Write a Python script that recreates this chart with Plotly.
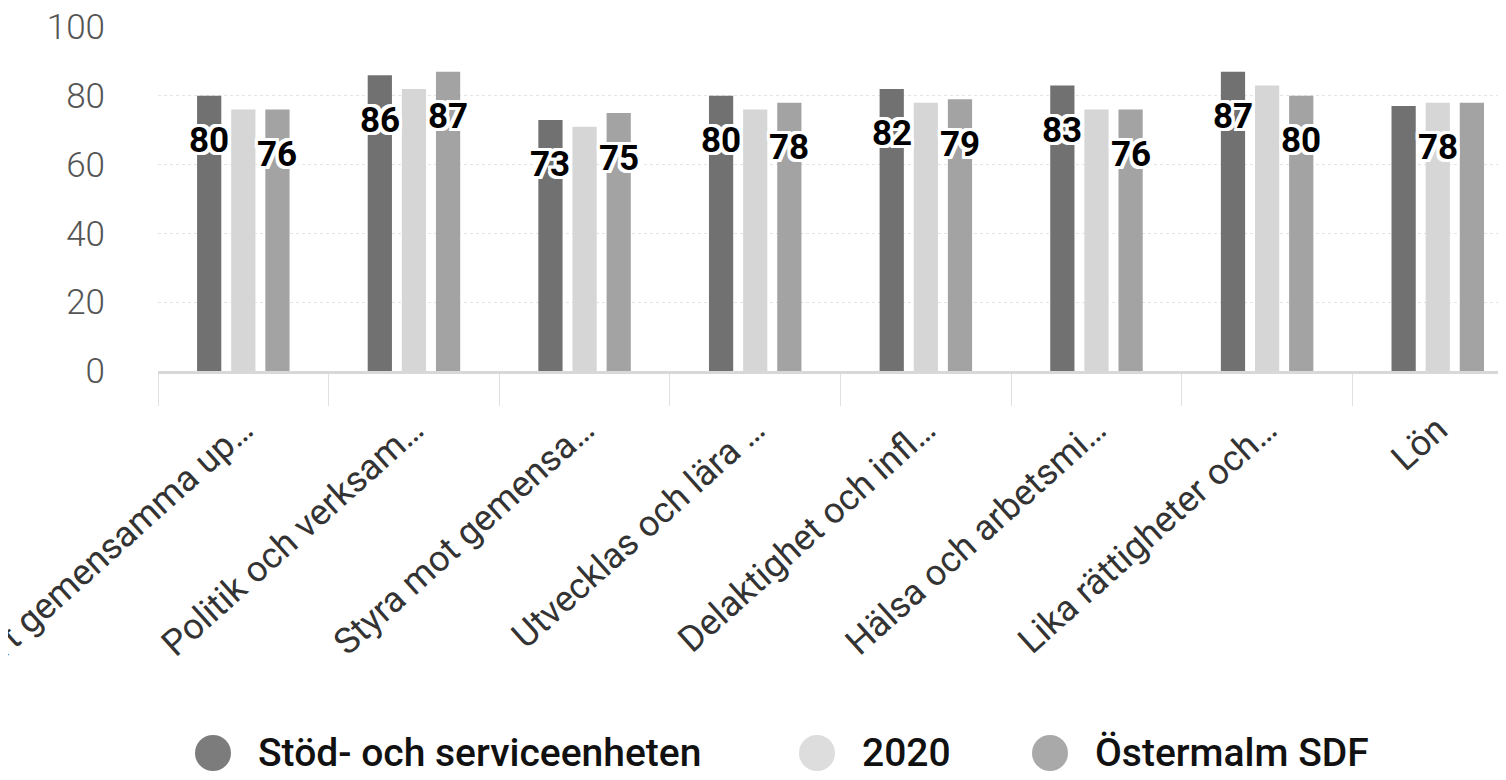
import plotly.graph_objects as go

categories = ["Vårt gemensamma up…", "Politik och verksam…", "Styra mot gemensa…",
              "Utvecklas och lära …", "Delaktighet och infl…", "Hälsa och arbetsmi…",
              "Lika rättigheter och…", "Lön"]
series_names = ["Stöd- och serviceenheten", "2020", "Östermalm SDF"]

stod = [80, 86, 73, 80, 82, 83, 87, 77]
y2020 = [76, 82, 71, 76, 78, 76, 83, 78]
ostermalm = [76, 87, 75, 78, 79, 76, 80, 78]

# which bars carry a value label
stod_labels = ["80", "86", "73", "80", "82", "83", "87", ""]
y2020_labels = ["", "", "", "", "", "", "", "78"]
ostermalm_labels = ["76", "87", "75", "78", "79", "76", "80", ""]

bar_colors = ["#717171", "#d6d6d6", "#a3a3a3"]
legend_colors = ["#7c7c7c", "#dddddd", "#a9a9a9"]
y_ticks = [0, 20, 40, 60, 80, 100]

bargap = 0.4
all_values = [stod, y2020, ostermalm]
all_labels = [stod_labels, y2020_labels, ostermalm_labels]

W, H = 1498, 772
ML, MT, MB = 150, 19, 409
plot_w = W - ML
plot_h = H - MT - MB

fig = go.Figure()

for k in range(3):
    fig.add_trace(go.Bar(x=categories, y=all_values[k], name=series_names[k],
                         marker=dict(color=bar_colors[k], line=dict(width=0)),
                         showlegend=False))

halo = ", ".join(f"{dx}px {dy}px 0 #fff" for dx in (-3, -2, 0, 2, 3) for dy in (-3, -2, 0, 2, 3))
slot = (1 - bargap) / 3
for k in range(3):
    for i, lab in enumerate(all_labels[k]):
        if not lab:
            continue
        fig.add_annotation(x=i + (k - 1) * slot, y=all_values[k][i], text=lab,
                           showarrow=False, yshift=-45, xanchor="center", yanchor="middle",
                           font=dict(family="Roboto", size=35, color="#000", weight="bold",
                                     shadow=halo))

# legend below the chart: big round swatches, drawn as layout items
legend_x = [205, 809, 1042]   # swatch centres, px from figure left
legend_y = 745                # px from figure top
ly = (MT + plot_h - legend_y) / plot_h
for k in range(3):
    lx = (legend_x[k] - ML) / plot_w
    fig.add_shape(type="circle", xref="paper", yref="paper",
                  xsizemode="pixel", ysizemode="pixel", xanchor=lx, yanchor=ly,
                  x0=-18, x1=18, y0=-18, y1=18,
                  fillcolor=legend_colors[k], line=dict(width=0))
    fig.add_annotation(xref="paper", yref="paper", x=lx, y=ly, xshift=43,
                       text=series_names[k], showarrow=False,
                       xanchor="left", yanchor="middle",
                       font=dict(family="Roboto", size=39, color="#111", weight=500))

fig.update_layout(
    width=W, height=H,
    margin=dict(l=ML, r=0, t=MT, b=MB),
    paper_bgcolor="white", plot_bgcolor="white",
    barmode="group", bargap=bargap, bargroupgap=0.29,
    font=dict(family="Roboto", color="#444"),
    showlegend=False,
)

fig.update_xaxes(type="category", range=[-0.5, 7.4],
                 showline=True, linecolor="#d8d8d8", linewidth=3,
                 ticks="outside", tickson="boundaries", ticklen=32, tickcolor="#e0e0e0",
                 tickwidth=1, tickangle=-42, ticklabelstandoff=20,
                 tickfont=dict(family="Roboto", size=36, color="#333", weight=400),
                 showgrid=False, automargin=False)

fig.update_yaxes(range=[0, 100], tickvals=y_ticks,
                 showgrid=True, gridcolor="#e4e4e4", gridwidth=1, griddash="dot",
                 zeroline=False, showline=False,
                 ticklabelstandoff=52, ticklabeloverflow="allow",
                 tickfont=dict(family="Roboto", size=35, color="#555", weight=300),
                 automargin=False)

fig.write_html("out.html")
